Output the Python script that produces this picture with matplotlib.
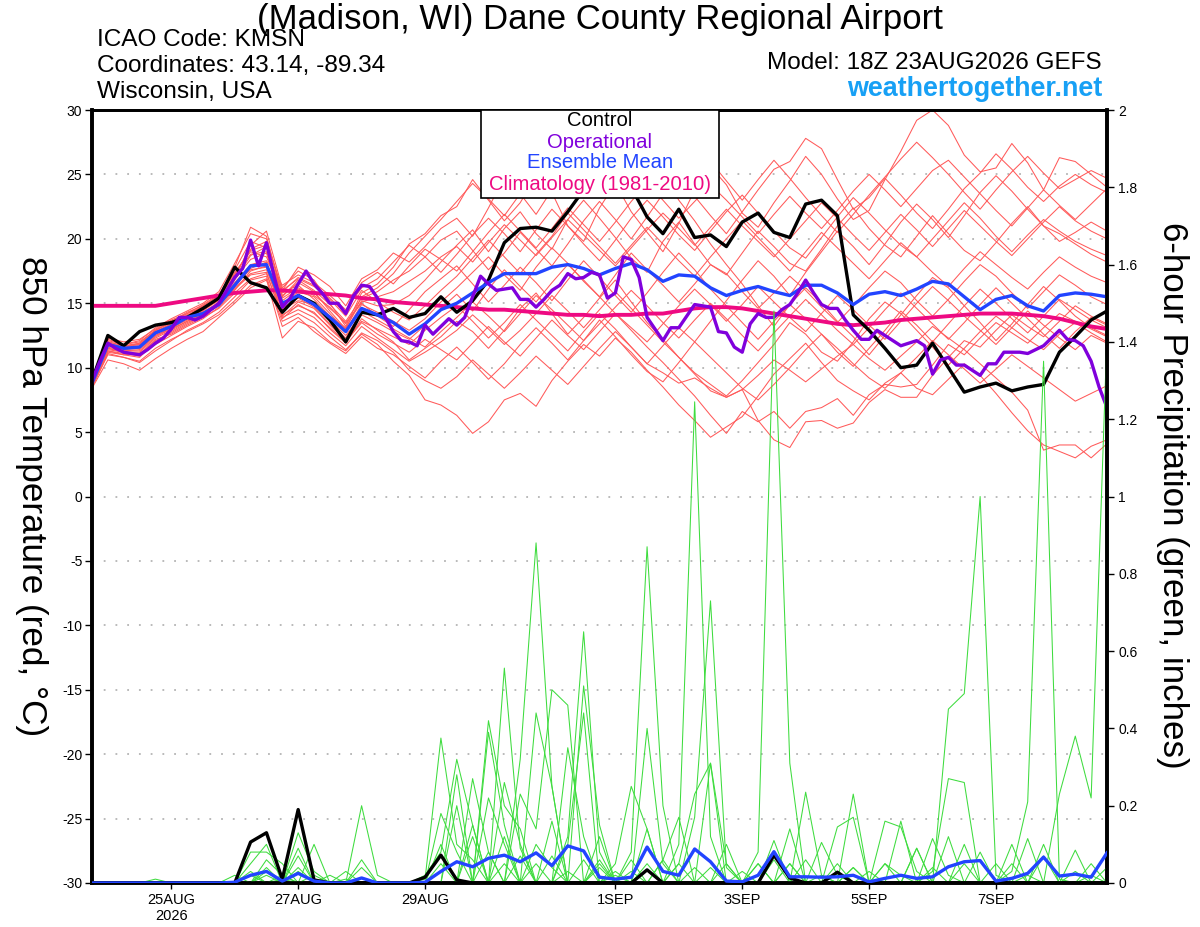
import numpy as np
import matplotlib
matplotlib.use('Agg')
import matplotlib.pyplot as plt
from matplotlib.patches import Rectangle

plt.rcParams['font.family'] = ['Liberation Sans', 'DejaVu Sans']

# ---------------- time axis (hours after 18Z 23AUG2026) ----------------
hours6 = list(range(0, 385, 6))
hours3 = list(range(0, 385, 3))
tick_hours = [30, 78, 126, 198, 246, 294, 342]
tick_labels = ['25AUG\n2026', '27AUG', '29AUG', '1SEP', '3SEP', '5SEP', '7SEP']

# ---------------- 850 hPa temperature (deg C) ----------------
control_t = [9.0, 12.5, 11.7, 12.8, 13.3, 13.5, 13.9, 14.6, 15.4, 17.8, 16.6, 16.2,
             14.3, 15.6, 15.0, 13.7, 12.0, 14.3, 14.1, 14.6, 13.9, 14.2, 15.5,
             14.3, 15.2, 16.8, 19.7, 20.8, 20.9, 20.6, 22.1, 23.8, 24.5, 25.0, 24.0,
             21.7, 20.4, 22.3, 20.1, 20.3, 19.4, 21.3, 22.0, 20.5,
             20.1, 22.7, 23.0, 21.8, 14.1, 12.9, 11.5, 10.0, 10.2, 11.9, 10.0, 8.1,
             8.5, 8.8, 8.2, 8.5, 8.7, 11.2, 12.4, 13.7, 14.4]

oper_t = [9.0, 10.5, 11.9, 11.5, 11.2, 11.1, 11.0, 11.4, 11.9, 12.3,
          13.0, 13.9, 13.9, 13.7, 14.0, 14.5, 15.0, 16.0, 17.0, 17.7,
          19.9, 17.9, 19.7, 17.0, 14.7, 15.4, 16.5, 17.5, 16.5, 15.8,
          15.0, 15.0, 14.2, 15.6, 16.4, 16.3, 15.4, 13.9, 12.8, 12.1,
          12.0, 11.7, 13.3, 12.6, 13.2, 13.8, 13.3, 13.9, 15.5, 17.1,
          16.5, 16.0, 16.1, 16.2, 15.3, 15.3, 14.7, 15.3, 16.0, 16.4,
          17.3, 16.9, 17.0, 17.4, 17.2, 15.4, 15.8, 18.6, 18.4, 17.0,
          13.9, 13.0, 12.1, 13.1, 13.1, 14.0, 14.9, 14.8, 14.7, 12.8,
          12.7, 11.6, 11.2, 13.4, 14.2, 13.9, 13.9, 14.5, 14.9, 15.8,
          16.8, 15.8, 14.9, 14.6, 14.6, 13.7, 12.9, 12.2, 12.2, 12.9,
          12.5, 12.1, 11.7, 11.9, 12.1, 11.7, 9.5, 10.6, 10.8, 10.2,
          10.2, 9.8, 9.4, 10.3, 10.3, 11.2, 11.2, 11.2, 11.1, 11.4,
          11.7, 12.3, 12.9, 12.2, 12.1, 11.7, 10.5, 8.5, 6.9]

mean_t = [8.8, 11.8, 11.5, 11.6, 12.7, 13.2, 13.9, 14.2, 14.9, 16.4, 17.9, 18.0,
          15.0, 15.6, 14.9, 13.9, 12.8, 14.6, 14.1, 13.5, 12.6, 13.4, 14.5,
          15.0, 15.8, 16.6, 17.3, 17.3, 17.3, 17.8, 18.0, 17.7, 17.2, 17.7, 18.1,
          17.6, 16.7, 17.2, 17.1, 16.2, 15.6, 16.0, 16.3, 15.9,
          15.6, 16.4, 16.4, 15.8, 14.9, 15.7, 15.9, 15.6, 16.1, 16.7, 16.5, 15.5,
          14.5, 15.3, 15.6, 14.8, 14.4, 15.6, 15.8, 15.7, 15.5]

clim_t = [14.8, 14.8, 14.8, 14.8, 14.8, 15.0, 15.2, 15.4, 15.6, 15.8, 15.9, 16.0,
          16.0, 15.9, 15.8, 15.7, 15.6, 15.4, 15.3, 15.1, 15.0, 14.9, 14.8,
          14.7, 14.6, 14.5, 14.5, 14.4, 14.3, 14.2, 14.1, 14.1, 14.0, 14.1, 14.1,
          14.2, 14.2, 14.4, 14.6, 14.7, 14.7, 14.6, 14.4, 14.2,
          14.0, 13.8, 13.6, 13.4, 13.3, 13.4, 13.5, 13.7, 13.8, 13.9, 14.0, 14.1,
          14.2, 14.2, 14.2, 14.1, 14.0, 13.8, 13.5, 13.2, 13.0]

temp_m01 = [8.6, 11.2, 11.0, 10.8, 12.0, 12.8, 13.5, 14.0, 15.1, 17.0, 19.5, 20.6,
            16.2, 17.5, 16.8, 15.0, 13.2, 15.8, 16.5, 17.8, 19.6, 20.4, 21.8,
            22.5, 24.6, 23.0, 21.4, 22.8, 24.9, 23.6, 21.0, 19.8, 22.4, 24.3, 22.1, 20.5, 19.0, 21.2, 23.8, 25.6, 24.2,
            22.0, 20.9, 22.8, 24.5, 26.4, 25.0, 23.1, 21.5, 22.2, 24.6, 26.8, 29.2, 30.0, 28.8, 26.5, 25.2, 25.5, 27.4, 25.9, 23.8, 26.3, 26.0, 25.0, 24.0]
temp_m02 = [8.4, 10.6, 10.3, 9.8, 10.7, 11.5, 12.2, 12.8, 13.9, 15.0, 16.2, 16.8,
            13.6, 14.2, 13.5, 12.4, 11.4, 12.6, 11.8, 10.5, 9.4, 7.5, 7.1,
            6.3, 4.9, 5.8, 7.5, 8.0, 7.0, 9.0, 10.5, 11.8, 10.9, 12.3, 11.2, 9.8, 8.5, 7.1, 5.9, 4.6, 5.4,
            6.2, 7.8, 9.5, 10.7, 11.9, 10.4, 9.0, 8.2, 7.5, 8.8, 9.6, 8.4, 7.9, 9.1, 10.3, 9.4, 8.0, 6.5, 5.1, 4.0, 3.5, 3.0, 3.9, 4.4]
temp_m03 = [8.9, 11.9, 11.6, 11.9, 12.9, 13.6, 14.3, 14.8, 15.6, 17.4, 19.0, 18.6,
            15.8, 16.4, 15.3, 14.0, 13.1, 15.2, 14.8, 14.9, 15.6, 16.8, 18.2,
            19.5, 20.7, 19.0, 20.8, 22.1, 20.4, 19.2, 21.5, 23.0, 21.6, 20.1, 18.5, 17.4, 19.8, 21.3, 19.6, 18.0, 17.2,
            18.9, 20.6, 19.4, 18.1, 17.5, 19.2, 21.0, 22.4, 20.8, 19.5, 18.6, 20.2, 21.8, 20.4, 19.1, 18.3, 19.7, 21.2, 22.5, 21.0, 19.8, 20.5, 21.3, 20.6]
temp_m04 = [8.7, 11.5, 11.2, 11.0, 12.2, 12.6, 13.3, 13.9, 14.6, 15.8, 16.9, 17.3,
            14.1, 14.8, 14.3, 13.0, 11.9, 13.8, 12.9, 12.0, 10.6, 11.5, 12.4,
            13.6, 12.8, 11.5, 12.9, 14.6, 15.8, 14.2, 12.6, 13.9, 15.4, 16.8, 15.1, 13.5, 12.2, 10.8, 9.6, 8.7, 7.8,
            9.0, 10.4, 11.8, 13.5, 12.6, 11.2, 10.5, 12.0, 13.8, 15.1, 14.2, 12.9, 11.6, 10.2, 11.5, 12.8, 14.0, 13.1, 12.2, 11.4, 12.6, 13.5, 12.7, 12.0]
temp_m05 = [9.1, 12.2, 11.8, 12.1, 13.1, 13.8, 14.4, 15.0, 15.9, 18.1, 20.4, 20.0,
            16.0, 17.8, 17.2, 16.3, 14.8, 16.9, 17.6, 18.9, 18.2, 19.4, 20.8,
            21.6, 20.2, 22.4, 24.8, 23.5, 21.9, 23.8, 25.7, 27.2, 25.4, 23.6, 24.9, 26.8, 25.1, 23.0, 21.4, 19.6, 18.0,
            16.5, 14.8, 13.2, 14.9, 16.2, 15.0, 13.6, 12.4, 11.0, 12.5, 14.1, 15.6, 17.0, 16.2, 14.8, 13.5, 12.1, 13.4, 14.9, 16.3, 15.2, 14.0, 13.1, 12.5]
temp_m06 = [8.5, 11.0, 10.8, 10.4, 11.3, 12.1, 12.9, 13.5, 14.3, 15.5, 16.8, 17.1,
            13.2, 13.9, 12.8, 11.9, 11.1, 12.4, 11.5, 11.0, 10.1, 9.2, 10.5,
            11.6, 10.4, 9.1, 10.3, 11.8, 13.1, 11.9, 10.6, 12.1, 13.7, 12.4, 11.0, 9.7, 8.9, 10.4, 12.0, 13.6, 15.2,
            16.8, 18.3, 17.1, 15.6, 17.4, 19.0, 20.6, 19.4, 18.0, 19.6, 21.3, 22.7, 21.5, 20.1, 21.8, 23.6, 24.9, 23.7, 22.3, 21.0, 20.4, 19.6, 18.8, 18.2]
temp_m07 = [8.8, 11.7, 11.4, 11.5, 12.5, 13.1, 13.7, 14.4, 15.3, 16.9, 18.4, 18.9,
            14.8, 15.9, 15.5, 14.2, 12.9, 14.9, 14.3, 13.6, 12.9, 13.8, 15.1,
            16.2, 17.4, 18.6, 17.2, 16.0, 17.8, 19.3, 18.1, 16.7, 15.5, 17.2, 18.9, 17.6, 16.4, 15.1, 16.5, 18.0, 17.3,
            15.9, 14.6, 15.8, 17.1, 16.0, 14.7, 13.5, 14.8, 16.2, 17.5, 16.6, 15.2, 14.0, 15.3, 16.7, 18.0, 17.1, 15.8, 14.6, 15.9, 17.2, 16.4, 15.5, 14.9]
temp_m08 = [9.0, 12.0, 11.7, 11.8, 12.8, 13.4, 14.1, 14.6, 15.5, 17.8, 20.9, 20.2,
            15.5, 16.8, 16.0, 14.9, 13.6, 15.4, 15.9, 16.8, 17.5, 18.6, 19.9,
            20.6, 19.1, 17.6, 18.9, 20.5, 19.2, 17.9, 19.6, 21.4, 22.9, 21.5, 20.0, 21.7, 23.5, 24.8, 23.3, 21.8, 20.4,
            22.1, 23.8, 25.4, 26.0, 27.8, 27.0, 24.6, 22.3, 23.2, 24.7, 23.4, 22.0, 20.8, 22.3, 23.9, 25.1, 26.6, 25.4, 24.0, 22.9, 24.1, 25.0, 24.2, 23.6]
temp_m09 = [8.6, 11.3, 11.1, 10.9, 11.8, 12.5, 13.2, 13.8, 14.7, 16.0, 17.5, 17.9,
            14.0, 15.1, 14.6, 13.3, 12.1, 13.6, 13.0, 12.4, 11.8, 12.9, 13.9,
            14.8, 13.6, 12.3, 13.5, 14.9, 13.7, 12.5, 11.3, 12.8, 14.2, 13.0, 11.6, 10.3, 9.6, 8.8, 9.2, 8.4, 7.7,
            8.3, 5.9, 4.4, 3.8, 5.8, 5.9, 5.3, 5.7, 7.3, 8.3, 7.7, 7.7, 9.4, 10.8, 12.1, 11.6, 12.9, 14.1, 13.2, 12.4, 13.6, 14.8, 14.0, 13.4]
temp_m10 = [8.9, 11.8, 11.5, 11.7, 12.7, 13.3, 14.0, 14.5, 15.2, 16.6, 18.0, 18.3,
            16.4, 17.2, 16.6, 15.6, 14.5, 16.2, 16.9, 18.2, 19.5, 18.6, 17.4,
            18.8, 20.3, 21.6, 20.4, 19.0, 20.7, 22.3, 21.0, 19.6, 18.3, 19.9, 21.6, 23.0, 21.7, 20.3, 19.1, 20.6, 22.1,
            23.4, 22.0, 20.6, 19.3, 18.5, 20.1, 21.7, 23.2, 22.0, 20.7, 19.5, 18.6, 20.0, 21.4, 22.8, 21.6, 20.2, 19.0, 20.3, 21.5, 20.6, 19.8, 19.2, 18.7]
temp_m11 = [8.7, 11.6, 11.3, 11.3, 12.4, 13.0, 13.6, 14.2, 15.0, 16.3, 17.7, 18.2,
            13.9, 14.5, 13.9, 12.7, 11.7, 13.2, 12.3, 11.4, 10.5, 11.2, 12.0,
            12.9, 14.1, 13.0, 11.8, 12.9, 14.2, 15.6, 14.4, 13.1, 14.5, 15.9, 14.6, 13.3, 12.0, 10.8, 9.5, 8.2, 7.7,
            8.3, 9.4, 10.6, 9.8, 8.9, 9.9, 10.9, 11.8, 10.7, 9.8, 10.9, 12.0, 13.2, 12.3, 11.4, 10.3, 9.2, 8.1, 6.7, 3.6, 4.0, 4.0, 3.0, 4.1]
temp_m12 = [9.2, 12.3, 12.0, 12.2, 13.0, 13.7, 14.2, 14.9, 15.7, 17.6, 19.8, 19.3,
            15.2, 16.1, 15.8, 14.6, 13.5, 15.0, 14.0, 13.2, 14.5, 15.9, 16.9,
            17.9, 16.5, 15.1, 16.4, 17.8, 16.6, 15.2, 16.8, 18.3, 17.0, 15.6, 14.3, 15.8, 17.4, 18.9, 17.6, 16.1, 14.8,
            13.5, 12.2, 13.6, 14.9, 13.8, 12.6, 11.2, 10.1, 11.5, 12.9, 14.4, 13.3, 12.0, 13.4, 14.8, 16.1, 15.0, 13.8, 12.7, 14.0, 15.3, 14.5, 13.7, 13.1]
temp_m13 = [8.8, 11.9, 11.6, 11.6, 12.6, 13.2, 13.9, 14.3, 15.0, 16.8, 18.7, 19.4,
            15.6, 16.6, 15.9, 14.4, 13.0, 15.5, 16.2, 17.3, 18.9, 20.2, 21.5,
            22.9, 24.3, 23.1, 21.8, 23.5, 25.2, 26.6, 25.3, 27.0, 28.1, 26.5, 24.9, 23.4, 24.8, 26.3, 27.6, 26.0, 24.5,
            23.0, 24.6, 26.1, 24.7, 23.2, 21.8, 20.5, 21.9, 23.4, 24.8, 26.2, 27.5, 26.3, 25.0, 23.6, 22.3, 23.8, 25.2, 26.4, 25.1, 23.9, 24.6, 25.3, 24.7]
temp_m14 = [8.5, 11.1, 10.8, 10.5, 11.5, 12.2, 12.8, 13.4, 14.1, 15.2, 16.4, 16.9,
            12.3, 13.6, 13.1, 12.0, 11.3, 12.7, 12.1, 11.2, 9.8, 9.0, 8.4,
            9.3, 10.6, 9.5, 8.4, 9.6, 10.9, 9.8, 8.7, 10.1, 11.5, 12.8, 11.6, 10.3, 11.7, 13.1, 12.0, 10.8, 9.6,
            8.4, 7.5, 8.7, 10.0, 11.4, 12.6, 11.5, 10.3, 9.2, 8.4, 9.6, 10.8, 12.1, 11.0, 9.9, 8.8, 9.9, 11.0, 10.1, 9.2, 8.3, 7.4, 8.0, 8.6]
temp_m15 = [9.0, 12.1, 11.8, 12.0, 12.9, 13.5, 14.2, 14.7, 15.4, 17.2, 19.2, 19.8,
            16.0, 16.9, 16.3, 15.3, 14.0, 16.0, 15.1, 14.3, 13.7, 14.8, 16.0,
            17.1, 18.5, 19.9, 18.6, 17.3, 18.8, 20.2, 22.0, 20.7, 19.4, 18.1, 19.5, 20.9, 19.6, 18.3, 17.1, 18.6, 20.0,
            21.4, 20.1, 18.8, 17.5, 19.0, 20.5, 19.3, 18.1, 16.9, 18.3, 19.7, 18.6, 17.4, 16.3, 17.7, 19.0, 18.0, 17.0, 16.1, 17.4, 18.6, 17.8, 17.1, 16.6]
temp_m16 = [8.6, 11.4, 11.2, 11.2, 12.3, 12.9, 13.6, 14.1, 14.8, 16.2, 17.3, 17.6,
            14.5, 15.2, 14.9, 13.7, 12.5, 14.1, 13.5, 12.8, 12.2, 13.3, 14.6,
            15.7, 14.4, 16.1, 17.6, 16.3, 15.1, 16.6, 18.0, 16.8, 15.5, 14.2, 12.9, 11.6, 10.4, 9.1, 7.8, 6.3, 4.9,
            6.6, 5.8, 6.6, 5.3, 6.6, 6.9, 7.6, 6.3, 7.9, 8.7, 8.5, 8.7, 10.2, 11.8, 11.0, 12.3, 13.5, 12.7, 11.9, 13.1, 14.2, 13.6, 13.0, 12.4]
temp_m17 = [8.9, 11.8, 11.6, 11.8, 12.8, 13.4, 13.9, 14.6, 15.4, 17.1, 18.8, 19.0,
            15.9, 17.0, 16.4, 15.4, 14.2, 16.6, 17.4, 16.5, 17.9, 19.2, 18.4,
            17.5, 19.0, 20.5, 21.9, 20.6, 19.3, 20.8, 22.4, 21.1, 19.8, 21.3, 22.9, 24.3, 23.0, 21.6, 22.9, 24.2, 23.0,
            21.7, 20.4, 21.9, 23.3, 22.0, 20.8, 22.2, 23.7, 25.0, 23.8, 22.5, 23.9, 25.3, 26.1, 24.8, 23.5, 22.2, 21.0, 22.4, 23.8, 22.6, 21.5, 22.7, 23.9]
temp_m18 = [8.7, 11.5, 11.3, 11.4, 12.5, 13.0, 13.8, 14.3, 15.1, 16.5, 17.6, 17.8,
            14.6, 15.4, 14.7, 13.4, 12.3, 14.4, 13.7, 13.0, 12.3, 11.6, 12.8,
            13.9, 15.1, 14.0, 12.8, 14.2, 15.6, 14.5, 13.3, 12.1, 13.4, 14.7, 16.0, 14.8, 13.5, 12.3, 13.7, 15.0, 13.8,
            12.5, 11.3, 12.7, 14.0, 15.3, 14.1, 12.9, 11.8, 13.1, 14.5, 15.8, 14.6, 13.4, 12.2, 13.5, 14.9, 16.2, 15.0, 13.8, 12.6, 11.5, 12.8, 13.9, 13.3]
temp_m19 = [9.1, 12.0, 11.7, 11.9, 12.9, 13.6, 14.0, 14.8, 15.6, 17.3, 19.1, 19.5,
            15.4, 16.2, 15.6, 14.7, 13.4, 15.1, 15.5, 15.9, 16.7, 17.5, 18.6,
            19.4, 18.2, 19.7, 21.1, 19.9, 18.7, 20.1, 21.5, 20.3, 19.1, 17.9, 19.3, 20.7, 22.0, 20.8, 19.5, 20.9, 22.3,
            21.0, 19.8, 18.6, 20.0, 21.4, 22.8, 21.6, 20.3, 19.1, 20.5, 21.9, 20.7, 19.4, 20.8, 22.2, 21.0, 19.8, 18.7, 20.0, 21.3, 22.5, 21.4, 20.6, 20.0]
temp_m20 = [8.6, 11.3, 11.0, 11.1, 12.1, 12.7, 13.4, 14.0, 14.9, 16.1, 17.2, 17.4,
            13.8, 14.9, 14.2, 13.1, 12.0, 13.5, 12.6, 11.9, 11.2, 12.2, 11.4,
            10.6, 11.9, 13.2, 12.0, 10.9, 12.3, 13.7, 12.5, 11.4, 12.8, 14.2, 13.1, 12.0, 13.4, 14.8, 16.1, 14.9, 13.6,
            14.9, 16.3, 15.1, 13.9, 12.8, 14.2, 15.6, 14.5, 13.3, 12.2, 13.6, 15.0, 16.3, 15.2, 14.0, 12.9, 11.8, 13.1, 14.4, 13.3, 12.3, 11.4, 12.5, 11.9]

temp_members = [temp_m01, temp_m02, temp_m03, temp_m04, temp_m05, temp_m06, temp_m07,
                temp_m08, temp_m09, temp_m10, temp_m11, temp_m12, temp_m13, temp_m14,
                temp_m15, temp_m16, temp_m17, temp_m18, temp_m19, temp_m20]

# ---------------- 6-hour precipitation (inches) ----------------
control_p = [0, 0, 0, 0, 0, 0, 0, 0, 0, 0,
             0.106, 0.13, 0.01, 0.19, 0.008, 0, 0, 0, 0, 0,
             0, 0.015, 0.072, 0.008, 0, 0, 0, 0, 0, 0,
             0, 0, 0, 0, 0, 0.034, 0, 0, 0, 0,
             0, 0, 0, 0.072, 0.013, 0, 0, 0.028, 0, 0,
             0, 0, 0, 0, 0, 0, 0, 0, 0, 0,
             0, 0, 0, 0, 0]
mean_p = [0, 0, 0, 0, 0, 0, 0, 0, 0, 0.002,
          0.02, 0.03, 0.005, 0.025, 0.005, 0, 0, 0.013, 0, 0,
          0, 0.002, 0.03, 0.055, 0.042, 0.064, 0.072, 0.055, 0.078, 0.045,
          0.096, 0.083, 0.015, 0.01, 0.015, 0.093, 0.03, 0.02, 0.088, 0.055,
          0.005, 0.003, 0.02, 0.081, 0.016, 0.016, 0.015, 0.016, 0.02, 0.003,
          0.012, 0.02, 0.012, 0.016, 0.042, 0.055, 0.058, 0.005, 0.012, 0.025,
          0.067, 0.018, 0.023, 0.015, 0.078]

# member precipitation: {6-hour step index: inches}, all other steps 0
precip_m01 = {4: 0.01, 21: 0.01, 22: 0.375, 23: 0.10, 24: 0.06, 28: 0.10, 29: 0.04, 33: 0.02, 40: 0.05, 50: 0.16, 51: 0.145, 52: 0.03, 63: 0.05}
precip_m02 = {11: 0.04, 21: 0.02, 22: 0.08, 23: 0.32, 24: 0.15, 26: 0.12, 30: 0.03, 38: 0.04, 52: 0.09, 64: 0.04}
precip_m03 = {10: 0.02, 13: 0.04, 22: 0.18, 23: 0.08, 25: 0.22, 26: 0.10, 32: 0.05, 39: 0.04, 53: 0.115, 54: 0.02}
precip_m04 = {11: 0.06, 12: 0.02, 22: 0.10, 24: 0.27, 25: 0.08, 27: 0.07, 33: 0.05, 34: 0.25, 35: 0.14, 45: 0.06, 53: 0.03, 54: 0.27, 55: 0.26}
precip_m05 = {10: 0.05, 11: 0.10, 13: 0.13, 14: 0.03, 22: 0.05, 24: 0.12, 29: 0.16, 34: 0.08, 35: 0.87, 36: 0.20, 46: 0.02, 55: 0.10}
precip_m06 = {11: 0.03, 17: 0.04, 23: 0.20, 26: 0.05, 31: 0.06, 36: 0.06, 37: 0.17, 48: 0.04, 56: 0.08}
precip_m07 = {13: 0.07, 23: 0.28, 26: 0.26, 27: 0.10, 37: 0.05, 38: 0.23, 39: 0.31, 47: 0.05, 58: 0.05}
precip_m08 = {10: 0.08, 11: 0.08, 12: 0.05, 24: 0.15, 28: 0.05, 35: 0.40, 36: 0.05, 49: 0.03, 60: 0.10}
precip_m09 = {14: 0.10, 25: 0.42, 26: 0.20, 27: 0.14, 34: 0.06, 41: 0.03, 50: 0.05, 60: 0.07}
precip_m10 = {9: 0.02, 11: 0.02, 25: 0.39, 26: 0.15, 29: 0.07, 35: 0.14, 42: 0.05, 51: 0.16, 62: 0.085}
precip_m11 = {13: 0.09, 25: 0.08, 30: 0.35, 31: 0.12, 35: 0.05, 42: 0.08, 43: 1.48, 44: 0.31, 53: 0.04}
precip_m12 = {16: 0.03, 26: 0.556, 27: 0.09, 32: 0.04, 36: 0.06, 42: 0.05, 44: 0.05, 54: 0.12, 59: 0.02}
precip_m13 = {12: 0.01, 27: 0.23, 28: 0.14, 29: 0.50, 30: 0.46, 37: 0.05, 43: 0.11, 55: 0.05}
precip_m14 = {17: 0.20, 18: 0.02, 27: 0.32, 28: 0.88, 29: 0.25, 32: 0.12, 44: 0.14, 54: 0.45, 55: 0.49, 56: 1.0, 57: 0.02}
precip_m15 = {14: 0.02, 28: 0.44, 29: 0.25, 34: 0.03, 45: 0.235, 46: 0.02, 57: 0.05, 62: 0.03}
precip_m16 = {17: 0.06, 30: 0.10, 31: 0.44, 33: 0.03, 40: 0.10, 46: 0.105, 47: 0.02, 58: 0.10}
precip_m17 = {15: 0.02, 30: 0.12, 31: 0.65, 32: 0.08, 44: 0.05, 47: 0.145, 48: 0.17, 59: 0.115}
precip_m18 = {12: 0.02, 31: 0.51, 32: 0.15, 37: 0.10, 38: 1.245, 39: 0.12, 48: 0.23, 58: 0.03, 59: 0.21, 60: 1.35, 61: 0.01}
precip_m19 = {10: 0.03, 13: 0.03, 38: 0.17, 39: 0.73, 40: 0.04, 48: 0.04, 52: 0.09, 61: 0.23, 62: 0.38, 63: 0.22, 64: 1.42}
precip_m20 = {16: 0.01, 32: 0.06, 39: 0.31, 40: 0.05, 43: 0.06, 50: 0.05, 51: 0.02, 63: 0.02}

precip_members = [precip_m01, precip_m02, precip_m03, precip_m04, precip_m05, precip_m06,
                  precip_m07, precip_m08, precip_m09, precip_m10, precip_m11, precip_m12,
                  precip_m13, precip_m14, precip_m15, precip_m16, precip_m17, precip_m18,
                  precip_m19, precip_m20]

left_ticks = list(range(-30, 31, 5))
right_ticks = [0, 0.2, 0.4, 0.6, 0.8, 1.0, 1.2, 1.4, 1.6, 1.8, 2.0]
right_labels = ['0', '0.2', '0.4', '0.6', '0.8', '1', '1.2', '1.4', '1.6', '1.8', '2']

# ---------------- colours ----------------
RED = '#FF5A5A'
GREEN = '#3EDC3E'
PURPLE = '#8000DC'
BLUE = '#2244FF'
PINK = '#EE0A82'

W, H = 1200, 927
fig = plt.figure(figsize=(W / 100, H / 100), dpi=100)
fig.patch.set_facecolor('white')

def fx(x):
    return x / W

def fy(y):
    return 1 - y / H

ax = fig.add_axes([fx(92), fy(883), fx(1107) - fx(92), fy(110) - fy(883)])
ax2 = ax.twinx()

# grid
for g in range(-25, 30, 5):
    ax.axhline(g, color='#b4b4b4', lw=1.3, ls=(0, (1, 5.5)), zorder=0.5)

for m in temp_members:
    ax.plot(hours6, m, color=RED, lw=0.75, zorder=1)
ax.plot(hours6, clim_t, color=PINK, lw=2.8, zorder=3, solid_capstyle='butt')
ax.plot(hours6, control_t, color='black', lw=2.4, zorder=4)
ax.plot(hours6, mean_t, color=BLUE, lw=2.4, zorder=5)
ax.plot(hours3, oper_t, color=PURPLE, lw=2.4, zorder=6)

for d in precip_members:
    vals = np.zeros(len(hours6))
    for k, v in d.items():
        vals[k] = v
    ax2.plot(hours6, vals, color=GREEN, lw=0.75, zorder=1)
ax2.plot(hours6, control_p, color='black', lw=2.4, zorder=4)
ax2.plot(hours6, mean_p, color=BLUE, lw=2.4, zorder=5)

ax.set_xlim(0, 384)
ax.set_ylim(-30, 30)
ax2.set_ylim(0, 2)

ax.set_xticks(tick_hours)
ax.set_xticklabels(tick_labels)
ax.set_yticks(left_ticks)
ax.set_yticklabels([str(t) for t in left_ticks])
ax2.set_yticks(right_ticks)
ax2.set_yticklabels(right_labels)

ax.tick_params(axis='y', length=5, width=1, labelsize=10, pad=2, direction='out')
ax.tick_params(axis='x', length=4, width=1, labelsize=10.5, pad=3, direction='out')
ax2.tick_params(axis='y', length=5, width=1, labelsize=10, pad=3, direction='out')

for a in (ax, ax2):
    for s in ('left', 'right', 'bottom'):
        a.spines[s].set_linewidth(2.6)
    a.spines['top'].set_linewidth(2.0)

# axis titles
fig.text(fx(31), fy(496), '850 hPa Temperature (red, °C)', rotation=270,
         ha='center', va='center', fontsize=25.3)
fig.text(fx(1172), fy(495), '6-hour Precipitation (green, inches)', rotation=270,
         ha='center', va='center', fontsize=25.2)

# header
fig.text(0.5, fy(19), '(Madison, WI) Dane County Regional Airport', ha='center',
         va='center', fontsize=25)
fig.text(fx(97), fy(40), 'ICAO Code: KMSN', ha='left', va='center', fontsize=17.6)
fig.text(fx(97), fy(66), 'Coordinates: 43.14, -89.34', ha='left', va='center', fontsize=17.6)
fig.text(fx(97), fy(92), 'Wisconsin, USA', ha='left', va='center', fontsize=17.6)
fig.text(fx(1102), fy(63), 'Model: 18Z 23AUG2026 GEFS', ha='right', va='center', fontsize=17.5)
fig.text(fx(1102), fy(89), 'weathertogether.net', ha='right', va='center', fontsize=19.4,
         fontweight='bold', color='#17A0F5')

# legend box
rect = Rectangle((fx(481), fy(198)), fx(719) - fx(481), fy(110) - fy(198),
                 transform=fig.transFigure, facecolor='white', edgecolor='black',
                 lw=1.2, zorder=2)
fig.patches.append(rect)
leg_items = [('Control', 'black', 121), ('Operational', PURPLE, 142),
             ('Ensemble Mean', BLUE, 163), ('Climatology (1981-2010)', PINK, 185)]
for txt, col, yy in leg_items:
    fig.text(0.5, fy(yy), txt, ha='center', va='center', fontsize=14.6, color=col, zorder=3)

fig.savefig('out.png', dpi=100, facecolor='white')
